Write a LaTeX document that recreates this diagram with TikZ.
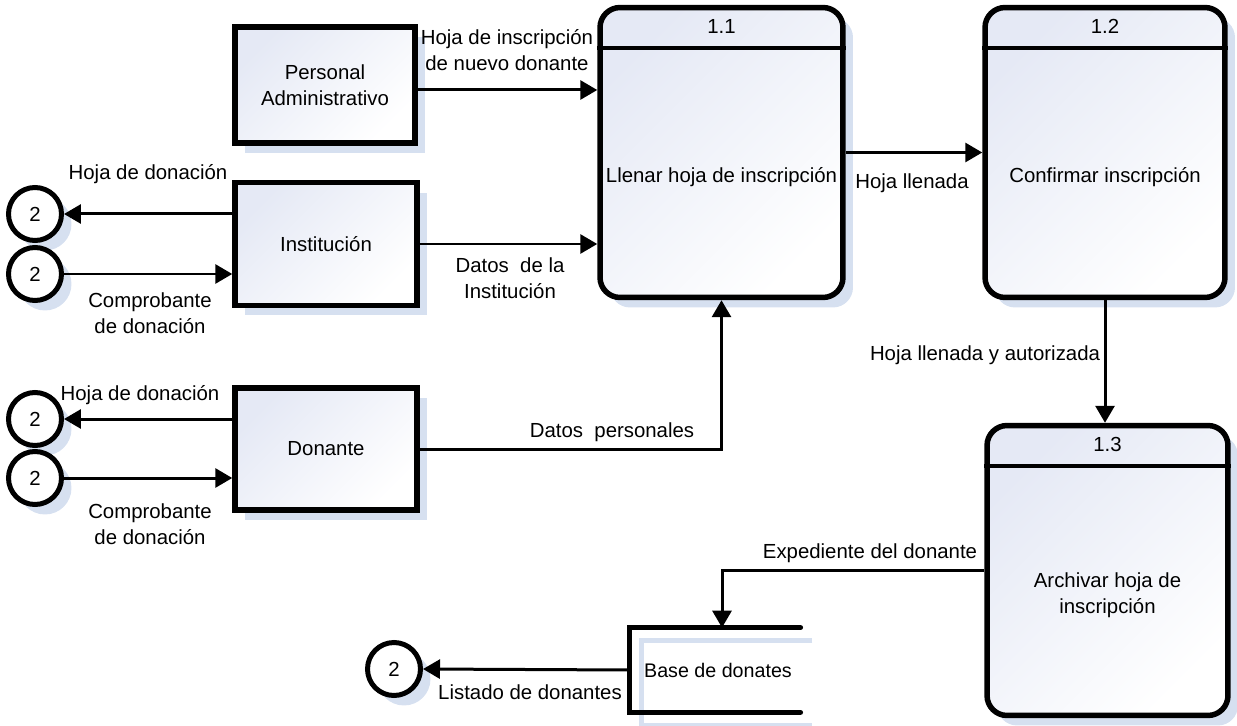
\documentclass[tikz,border=0pt]{standalone}
\usepackage{fontspec}
\setmainfont{Liberation Sans}
\usetikzlibrary{arrows.meta,shadows,calc}
\definecolor{shadowblue}{HTML}{D6E0F0}
\definecolor{paleblue}{HTML}{E5E9F5}
\begin{document}
\begin{tikzpicture}[x=0.02cm,y=-0.02cm,
  every node/.style={font=\fontsize{11.6}{14.8}\selectfont},
  softshadow/.style={general shadow={fill=shadowblue, shadow xshift=0.2cm, shadow yshift=-0.2cm}},
  boxfill/.style={top color=paleblue, bottom color=white, shading angle=45},
  entity/.style={draw, line width=0.11cm, boxfill, softshadow, align=center, inner sep=0},
  process/.style={draw, line width=0.11cm, rounded corners=0.4cm, boxfill, softshadow, minimum height=5.8cm, inner sep=0},
  ref/.style={draw, circle, line width=0.1cm, fill=white, softshadow, minimum size=1.06cm, inner sep=0},
  flow/.style={line width=0.06cm, -{Triangle[length=0.34cm,width=0.38cm]}},
  lbl/.style={align=center, inner sep=0}
]
\useasboundingbox (0,0) rectangle (1237,726);

% external entities
\node[entity, minimum width=3.6cm, minimum height=2.32cm] (pa) at (325,85) {Personal\\Administrativo};
\node[entity, minimum width=3.64cm, minimum height=2.46cm] (inst) at (326,244) {Institución};
\node[entity, minimum width=3.64cm, minimum height=2.44cm] (don) at (326,449) {Donante};

% processes
\node[process, minimum width=4.86cm] (p11) at (721.5,152.5) {};
\node[process, minimum width=4.8cm] (p12) at (1105,152.5) {};
\node[process, minimum width=4.82cm] (p13) at (1107.5,570.5) {};
\foreach \p in {p11,p12,p13}
  \draw[line width=0.09cm] ([yshift=-0.86cm]\p.north west) -- ([yshift=-0.86cm]\p.north east);
\node (n11) at ([yshift=-0.43cm]p11.north) {1.1};
\node (n12) at ([yshift=-0.43cm]p12.north) {1.2};
\node (n13) at ([yshift=-0.43cm]p13.north) {1.3};
\node[align=center] (t11) at ([yshift=-0.5cm]p11.center) {Llenar hoja de inscripción};
\node[align=center] (t12) at ([yshift=-0.5cm]p12.center) {Confirmar inscripción};
\node[align=center] (t13) at ([yshift=-0.5cm]p13.center) {Archivar hoja de\\inscripción};

% data store
\node[minimum width=3.4cm, minimum height=1.68cm, inner sep=0] (st) at (715,670) {};
\node[inner sep=0, font=\fontsize{11.2}{14}\selectfont] (stt) at (718,670) {Base de donates};
\draw[shadowblue, line width=0.09cm]
  ([shift={(0.24cm,-0.26cm)}]st.north east) -- ([shift={(0.24cm,-0.26cm)}]st.north west)
  -- ([shift={(0.24cm,-0.26cm)}]st.south west) -- ([shift={(0.24cm,-0.26cm)}]st.south east);
\draw[line width=0.11cm, line cap=round]
  (st.north east) -- (st.north west) -- (st.south west) -- (st.south east);

% references to diagram 2
\node[ref] (c1) at (35,214) {2};
\node[ref] (c2) at (35,274) {2};
\node[ref] (c3) at (35,419) {2};
\node[ref] (c4) at (35,478) {2};
\node[ref] (c5) at (394,669) {2};

% data flows
\draw[flow] ([yshift=-0.1cm]pa.east) -- ([yshift=-0.1cm]pa.east -| p11.west);
\draw[flow] (c1 -| inst.west) -- (c1.east);
\draw[flow] (c2.east) -- (c2 -| inst.west);
\draw[flow] (inst.east) -- (inst.east -| p11.west);
\draw[flow] (c3 -| don.west) -- (c3.east);
\draw[flow] (c4.east) -- (c4 -| don.west);
\draw[flow] (don.east) -| (p11.south);
\draw[flow] (p11.east) -- (p12.west);
\draw[flow] (p12.south) -- (p12.south |- p13.north);
\draw[flow] (p13.west) -| ([xshift=0.14cm]st.north);
\draw[flow] (st.west) -- (c5.east);

% flow labels
\node[lbl] (l1) at (507,50) {Hoja de inscripción\\de nuevo donante};
\node[lbl] (l2) at (148,174) {Hoja de donación};
\node[lbl] (l3) at (150,313) {Comprobante\\de donación};
\node[lbl] (l4) at (510,278) {Datos\ \ de la\\Institución};
\node[lbl] (l5) at (140,395) {Hoja de donación};
\node[lbl] (l6) at (150,524) {Comprobante\\de donación};
\node[lbl] (l7) at (612,432) {Datos\ \ personales};
\node[lbl] (l8) at (912,183) {Hoja llenada};
\node[lbl] (l9) at (985,355) {Hoja llenada y autorizada};
\node[lbl] (l10) at (870,553) {Expediente del donante};
\node[lbl] (l11) at (530,692) {Listado de donantes};
\end{tikzpicture}
\end{document}
